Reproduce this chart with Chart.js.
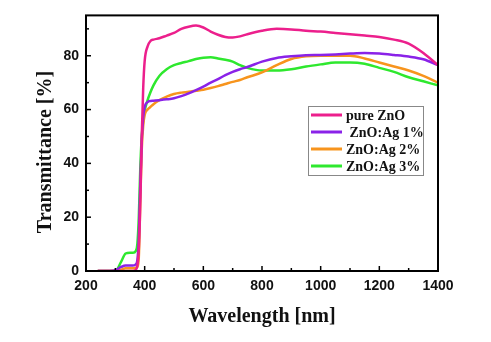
<!DOCTYPE html>
<html>
<head>
<meta charset="utf-8">
<script src="https://cdn.jsdelivr.net/npm/chart.js@4/dist/chart.umd.min.js"></script>
<style>
  body { margin: 0; background: #fff; }
  #wrap { width: 491px; height: 342px; }
</style>
</head>
<body>
<div id="wrap"><canvas id="transChart" width="491" height="342"></canvas></div>
<script>
// wavelength grid (nm) shared by all spectra
var wavelength = [240, 280, 300, 320, 335, 350, 360, 370, 375, 380, 385, 390, 395, 400, 410, 420, 430, 450, 475, 500, 525, 550, 575, 600, 625, 650, 675, 700, 725, 750, 800, 850, 900, 950, 1000, 1050, 1100, 1150, 1200, 1250, 1300, 1350, 1400];

var pureZnO = [0, 0, 0, 0, 0, 0, 0, 0.5, 2, 8, 25, 50, 68, 78, 83.5, 85.5, 86, 86.5, 87.5, 88.5, 90, 90.8, 91.2, 90.5, 89, 87.8, 87, 86.8, 87.2, 88, 89.3, 90, 89.8, 89.3, 89, 88.5, 88, 87.5, 87, 86, 84.5, 81, 76.5];
var ag1 = [0, 0, 0.3, 1.5, 2, 2, 2, 2.5, 4, 12, 32, 48, 57, 61, 62.8, 63.2, 63.3, 63.5, 63.8, 64.2, 65, 66, 67.2, 68.5, 70, 71.3, 72.8, 74, 75, 75.8, 77.8, 79.2, 79.8, 80.2, 80.3, 80.5, 80.8, 81, 80.8, 80.3, 79.7, 78.7, 76.5];
var ag2 = [0, 0, 0, 0.5, 1, 1, 1, 1.2, 1.5, 5, 25, 45, 54, 58, 60, 61, 62, 63.5, 64.8, 65.8, 66.3, 66.6, 67, 67.4, 68, 68.7, 69.5, 70.3, 71, 72, 73.8, 76.5, 78.8, 79.8, 80, 80, 80, 79, 77.5, 76, 74.5, 72.5, 70];
var ag3 = [0, 0, 0, 3.5, 6.5, 6.8, 6.8, 7.5, 10, 20, 38, 50, 56, 59.5, 63.5, 66.5, 69, 72.5, 75, 76.5, 77.3, 78, 78.8, 79.3, 79.4, 79, 78.5, 77.8, 76.5, 75.5, 74.5, 74.5, 75, 76, 76.8, 77.5, 77.5, 77, 75.5, 74, 72, 70.5, 69];

var seriesNames = ['pure ZnO', ' ZnO:Ag 1%', 'ZnO:Ag 2%', 'ZnO:Ag 3%'];
var seriesValues = [pureZnO, ag1, ag2, ag3];
var seriesColors = ['#ec1f8c', '#8a22e8', '#f7941d', '#2ee82e'];

var xMajor = [200, 400, 600, 800, 1000, 1200, 1400];
var yMajor = [0, 20, 40, 60, 80];

var SERIF = '"Liberation Serif", "Times New Roman", serif';
var SANS = '"Liberation Sans", Arial, sans-serif';

function toPoints(vals) {
  return vals.map(function (v, i) { return { x: wavelength[i], y: v }; });
}

var datasets = seriesValues.map(function (vals, i) {
  return {
    label: seriesNames[i],
    data: toPoints(vals),
    borderColor: seriesColors[i],
    backgroundColor: seriesColors[i],
    borderWidth: 2.5,
    pointRadius: 0,
    tension: 0.35,
    cubicInterpolationMode: 'monotone'
  };
});

// frame, inward ticks, axis titles and the boxed legend
var decorations = {
  id: 'decorations',
  afterDatasetsDraw: function (chart) {
    var ctx = chart.ctx;
    var a = chart.chartArea;
    var xs = chart.scales.x, ys = chart.scales.y;
    ctx.save();
    ctx.strokeStyle = '#000';
    ctx.lineWidth = 1.5;
    // minor and major ticks pointing into the plot
    for (var w = 200; w <= 1400; w += 100) {
      var px = xs.getPixelForValue(w);
      var len = (w % 200 === 0) ? 5 : 3;
      ctx.beginPath(); ctx.moveTo(px, a.bottom); ctx.lineTo(px, a.bottom - len); ctx.stroke();
    }
    for (var t = 0; t <= 90; t += 10) {
      var py = ys.getPixelForValue(t);
      var l2 = (t % 20 === 0) ? 5 : 3;
      ctx.beginPath(); ctx.moveTo(a.left, py); ctx.lineTo(a.left + l2, py); ctx.stroke();
    }
    ctx.lineWidth = 2;
    ctx.strokeRect(a.left, a.top, a.right - a.left, a.bottom - a.top);

    // legend box
    var bx = 308, by = 106, bw = 115, bh = 69;
    ctx.fillStyle = '#fff';
    ctx.fillRect(bx, by, bw, bh);
    ctx.strokeStyle = '#888';
    ctx.lineWidth = 1;
    ctx.strokeRect(bx + 0.5, by + 0.5, bw, bh);
    ctx.font = 'bold 14px ' + SERIF;
    ctx.textBaseline = 'middle';
    ctx.textAlign = 'left';
    chart.data.datasets.forEach(function (ds, i) {
      var ly = by + 9 + i * 17;
      ctx.strokeStyle = ds.borderColor;
      ctx.lineWidth = 3;
      ctx.beginPath(); ctx.moveTo(bx + 3, ly); ctx.lineTo(bx + 34, ly); ctx.stroke();
      ctx.fillStyle = '#111';
      ctx.fillText(ds.label, bx + 38, ly + 1);
    });

    // axis titles
    ctx.fillStyle = '#111';
    ctx.font = 'bold 20px ' + SERIF;
    ctx.textAlign = 'center';
    ctx.fillText('Wavelength [nm]', (a.left + a.right) / 2, 317);
    ctx.translate(46, 152);
    ctx.rotate(-Math.PI / 2);
    ctx.fillText('Transmittance [%]', 0, 0);
    ctx.restore();
  }
};

var chart = new Chart(document.getElementById('transChart').getContext('2d'), {
  type: 'line',
  data: { datasets: datasets },
  options: {
    responsive: false,
    animation: false,
    layout: { padding: { top: 13, right: 53, left: 0, bottom: 0 } },
    plugins: { legend: { display: false }, tooltip: { enabled: false } },
    scales: {
      x: {
        type: 'linear',
        min: 200,
        max: 1400,
        afterFit: function (s) { s.height = 71; },
        afterBuildTicks: function (s) { s.ticks = xMajor.map(function (v) { return { value: v }; }); },
        grid: { display: false, drawTicks: false },
        border: { display: false },
        ticks: {
          color: '#111', padding: 7, maxRotation: 0,
          font: { family: SANS, size: 14, weight: 'bold' },
          callback: function (v) { return String(v); }
        }
      },
      y: {
        min: 0,
        max: 95,
        afterFit: function (s) { s.width = 86; },
        afterBuildTicks: function (s) { s.ticks = yMajor.map(function (v) { return { value: v }; }); },
        grid: { display: false, drawTicks: false },
        border: { display: false },
        ticks: { color: '#111', padding: 7, font: { family: SANS, size: 14, weight: 'bold' } }
      }
    }
  },
  plugins: [decorations]
});
</script>
</body>
</html>
